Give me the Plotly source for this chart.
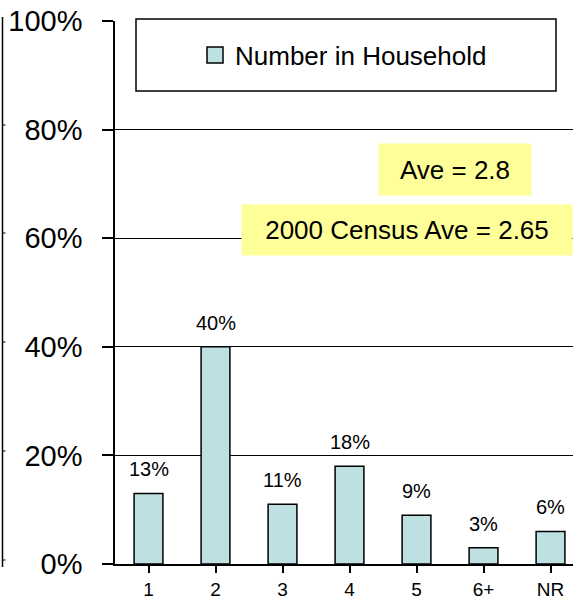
import plotly.graph_objects as go

categories = ["1", "2", "3", "4", "5", "6+", "NR"]
values = [13, 40, 11, 18, 9, 3, 6]
labels = ["13%", "40%", "11%", "18%", "9%", "3%", "6%"]
series_name = "Number in Household"
ave_text = "Ave = 2.8"
census_text = "2000 Census Ave = 2.65"
y_ticks = [0, 20, 40, 60, 80, 100]
y_tick_labels = ["0%", "20%", "40%", "60%", "80%", "100%"]

FONT = "Arial, Liberation Sans, sans-serif"
BAR_COLOR = "#BDE0E2"
W, H = 573, 600
L, R, T, B = 115, 0, 21, 36
pw, ph = W - L - R, H - T - B

def px_x(p):
    return (p - L) / pw

def px_y(p):
    return (H - B - p) / ph

fig = go.Figure()
fig.add_trace(go.Bar(
    x=list(range(len(categories))), y=values, name=series_name,
    width=0.43,
    marker=dict(color=BAR_COLOR, line=dict(color="black", width=1.5)),
    showlegend=False,
))
# legend entry (square swatch)
fig.add_trace(go.Scatter(
    x=[None], y=[None], mode="markers", name=series_name,
    marker=dict(symbol="square", size=16, color=BAR_COLOR,
                line=dict(color="black", width=1.5)),
    showlegend=True,
))

for i, (v, t) in enumerate(zip(values, labels)):
    fig.add_annotation(x=i, y=v, text=t, showarrow=False, yanchor="bottom",
                       yshift=11, font=dict(size=20, color="black", family=FONT))

# legend box
fig.add_shape(type="rect", xref="paper", yref="paper",
              x0=px_x(136), x1=px_x(556), y0=px_y(91), y1=px_y(19),
              fillcolor="white", line=dict(color="black", width=1.5), layer="above")

# yellow boxes
fig.add_annotation(xref="paper", yref="paper", x=px_x(455), y=px_y(169.5),
                   xanchor="center", yanchor="middle",
                   text=ave_text, showarrow=False, bgcolor="#FFFF99",
                   width=150, height=49, borderpad=1,
                   font=dict(size=26, color="black", family=FONT))
fig.add_annotation(xref="paper", yref="paper", x=px_x(407), y=px_y(230),
                   xanchor="center", yanchor="middle",
                   text=census_text, showarrow=False, bgcolor="#FFFF99",
                   width=328, height=48, borderpad=1,
                   font=dict(size=26, color="black", family=FONT))

# left-edge remnant line with small ticks
fig.add_shape(type="line", xref="paper", yref="paper",
              x0=px_x(2.5), x1=px_x(2.5), y0=px_y(17), y1=px_y(567),
              line=dict(color="black", width=1.5))
for yy in [125, 233, 342, 451, 560]:
    fig.add_shape(type="line", xref="paper", yref="paper",
                  x0=px_x(2.5), x1=px_x(5.5), y0=px_y(yy), y1=px_y(yy),
                  line=dict(color="black", width=1))

fig.update_layout(
    width=W, height=H,
    margin=dict(l=L, r=R, t=T, b=B, autoexpand=False),
    paper_bgcolor="white", plot_bgcolor="white",
    font=dict(family=FONT, color="black"),
    legend=dict(x=px_x(195), y=px_y(55), xanchor="left", yanchor="middle",
                bgcolor="rgba(0,0,0,0)", borderwidth=0,
                font=dict(size=26, color="black", family=FONT)),
    xaxis=dict(
        range=[-0.5, len(categories) - 0.5 - (L + 469 - W) / 66.9],
        tickmode="array", tickvals=list(range(len(categories))), ticktext=categories,
        tickson="boundaries", ticks="outside", ticklen=7, tickwidth=1.5, tickcolor="black",
        showline=True, linecolor="black", linewidth=1.5,
        showgrid=False, zeroline=False, automargin=False,
        tickfont=dict(size=19, color="black", family=FONT),
        ticklabelstandoff=0,
    ),
    yaxis=dict(
        range=[0, 100],
        tickmode="array", tickvals=y_ticks, ticktext=y_tick_labels,
        ticks="outside", ticklen=11, tickwidth=1.5, tickcolor="black",
        showline=True, linecolor="black", linewidth=1.5,
        showgrid=True, gridcolor="black", gridwidth=1.2,
        zeroline=False, automargin=False,
        tickfont=dict(size=29, color="black", family=FONT),
        ticklabelstandoff=14,
    ),
)

fig.write_html("out.html", config={"displayModeBar": False},
               post_script="document.body.style.margin='0';document.body.style.overflow='hidden';")
